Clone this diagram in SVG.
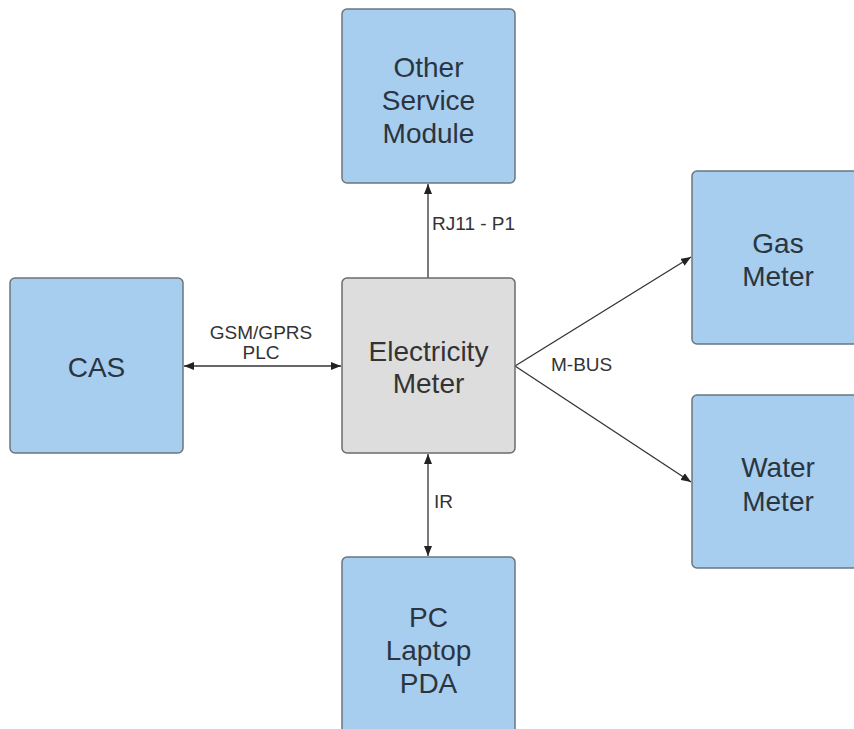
<svg xmlns="http://www.w3.org/2000/svg" width="854" height="729" viewBox="0 0 854 729">
<style>
.box{fill:#a7cdef;stroke:#6b7580;stroke-width:1.5}
.grey{fill:#dddddd;stroke:#6b6b6b;stroke-width:1.5}
.t{font-family:"Liberation Sans",Arial,sans-serif;font-size:28px;fill:#2b3540;text-anchor:middle}
.tg{fill:#333333}
.lbl{font-family:"Liberation Sans",Arial,sans-serif;font-size:19px;fill:#333333}
.c{fill:none;stroke:#333333;stroke-width:1.3}
</style>
<defs>
<marker id="ah" markerUnits="userSpaceOnUse" markerWidth="10" markerHeight="8" refX="10" refY="4" orient="auto-start-reverse">
<path d="M0,0 L10,4 L0,8 z" fill="#222222"/>
</marker>
</defs>
<rect width="854" height="729" fill="#ffffff"/>
<g id="connectors">
<line class="c" x1="428" y1="278" x2="428" y2="184" marker-end="url(#ah)"/>
<line class="c" x1="184" y1="366" x2="341" y2="366" marker-start="url(#ah)" marker-end="url(#ah)"/>
<line class="c" x1="428" y1="454" x2="428" y2="556" marker-start="url(#ah)" marker-end="url(#ah)"/>
<line class="c" x1="515" y1="366" x2="691" y2="257" marker-end="url(#ah)"/>
<line class="c" x1="515" y1="366" x2="691" y2="482" marker-end="url(#ah)"/>
<text class="lbl" x="432" y="230">RJ11 - P1</text>
<text class="lbl" x="261" y="339" text-anchor="middle">GSM/GPRS</text>
<text class="lbl" x="261" y="359" text-anchor="middle">PLC</text>
<text class="lbl" x="551" y="371">M-BUS</text>
<text class="lbl" x="434" y="508">IR</text>
</g>
<g id="other">
<rect class="box" x="342" y="9" width="173" height="174" rx="5"/>
<text class="t" x="428.5" y="77">Other</text>
<text class="t" x="428.5" y="110">Service</text>
<text class="t" x="428.5" y="143">Module</text>
</g>
<g id="cas">
<rect class="box" x="10" y="278" width="173" height="175" rx="5"/>
<text class="t" x="96.5" y="377">CAS</text>
</g>
<g id="electricity">
<rect class="grey" x="342" y="278" width="173" height="175" rx="5"/>
<text class="t tg" x="428.5" y="361">Electricity</text>
<text class="t tg" x="428.5" y="393">Meter</text>
</g>
<g id="gas">
<rect class="box" x="692" y="171" width="173" height="173" rx="5"/>
<text class="t" x="778" y="253">Gas</text>
<text class="t" x="778" y="286">Meter</text>
</g>
<g id="water">
<rect class="box" x="692" y="395" width="173" height="173" rx="5"/>
<text class="t" x="778" y="477">Water</text>
<text class="t" x="778" y="511">Meter</text>
</g>
<g id="pc">
<rect class="box" x="342" y="557" width="173" height="180" rx="5"/>
<text class="t" x="428.5" y="627">PC</text>
<text class="t" x="428.5" y="660">Laptop</text>
<text class="t" x="428.5" y="693">PDA</text>
</g>
</svg>
